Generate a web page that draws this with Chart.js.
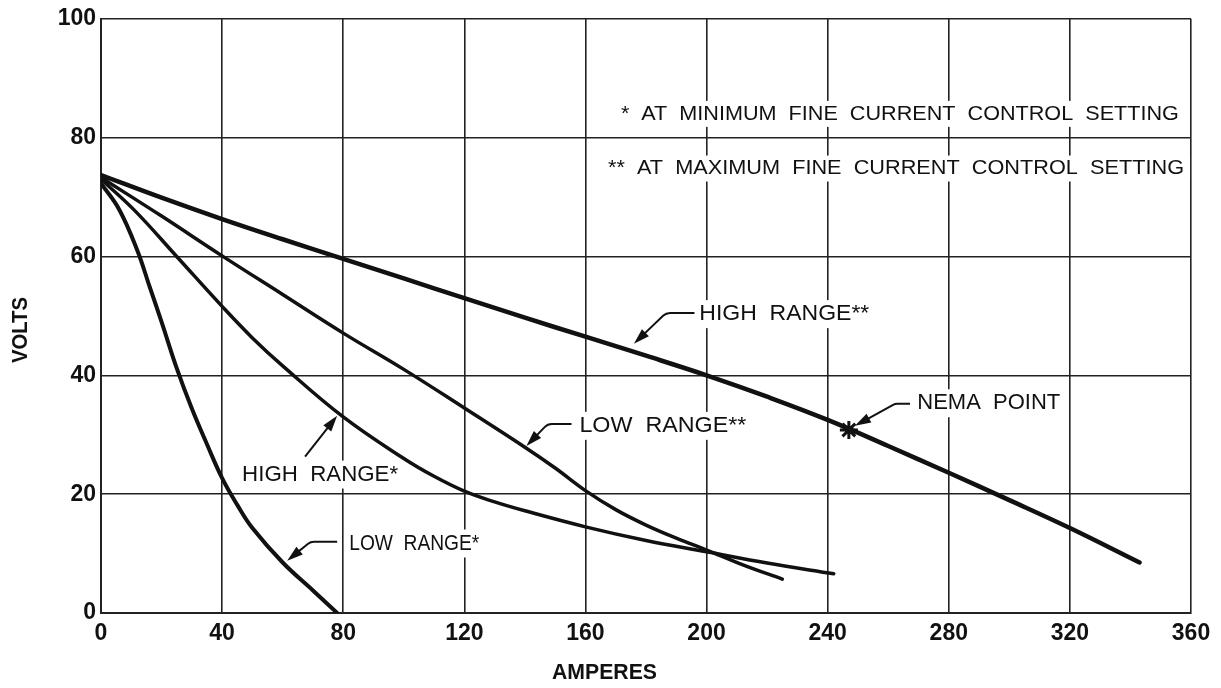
<!DOCTYPE html>
<html>
<head>
<meta charset="utf-8">
<title>Volt-ampere curves</title>
<script src="https://cdn.jsdelivr.net/npm/chart.js@4.4.1/dist/chart.umd.min.js"></script>
<style>
  html, body { margin: 0; padding: 0; background: #fff; }
  #wrap { width: 1221px; height: 688px; }
</style>
</head>
<body>
<div id="wrap"><canvas id="myChart" width="1221" height="688"></canvas></div>
<script>
// axis ticks
var xTicks = [0, 40, 80, 120, 160, 200, 240, 280, 320, 360];
var yTicks = [0, 20, 40, 60, 80, 100];

// LOW RANGE*
var lowMinAmps  = [0, 6, 12, 16, 20, 25, 30, 35, 40, 45, 50, 60, 70, 78];
var lowMinVolts = [72.3, 67.9, 61, 55, 49, 41.2, 34.4, 28.4, 22.7, 18.2, 14.3, 8.5, 3.8, 0];
// HIGH RANGE*
var highMinAmps  = [0, 11, 25, 40, 50, 60, 80, 100, 110, 120, 130, 140, 160, 180, 200, 220, 242];
var highMinVolts = [73, 67.8, 60, 51.6, 46.3, 41.6, 33, 26, 23, 20.5, 18.7, 17.2, 14.5, 12.2, 10.3, 8.4, 6.6];
// LOW RANGE**
var lowMaxAmps  = [0, 20, 40, 60, 80, 100, 120, 140, 150, 160, 170, 180, 190, 200, 212, 225];
var lowMaxVolts = [73.3, 66.8, 60.1, 53.6, 47.1, 41, 34.5, 27.9, 24.4, 20.6, 17.4, 14.8, 12.6, 10.6, 8.1, 5.7];
// HIGH RANGE**
var highMaxAmps  = [0, 20, 40, 60, 80, 100, 120, 140, 160, 180, 200, 220, 240, 260, 280, 300, 320, 343];
var highMaxVolts = [73.7, 69.9, 66.3, 62.9, 59.6, 56.3, 53, 49.7, 46.5, 43.3, 40, 36.4, 32.5, 28.1, 23.6, 19, 14.3, 8.5];
// NEMA point
var nemaAmps = [247];
var nemaVolts = [30.8];

function pairs(xs, ys) {
    return xs.map(function(v, i) { return {x: v, y: ys[i]}; });
}

// labels on the plot: text, where it starts, arrow path (last point is the tip)
var notes = [
    {text: 'HIGH  RANGE**', at: [197.6, 50.3], w: 170, arrow: [[196, 50.5], [186.6, 50.5], [176, 45.3]]},
    {text: 'LOW  RANGE**', at: [158, 31.5], w: 167, arrow: [[155.4, 31.8], [147.5, 31.8], [140.5, 28.1]]},
    {text: 'NEMA  POINT', at: [269.6, 35.3], w: 143, arrow: [[267.2, 35.2], [262.2, 35.2], [249, 31.5]]},
    {text: 'HIGH  RANGE*', at: [46.6, 23.3], w: 156, arrow: [[67.4, 26.3], [78, 33.2]]},
    {text: 'LOW  RANGE*', at: [82, 11.7], w: 130, arrow: [[78, 12.0], [69.2, 12.0], [61.5, 8.8]]}
];
var footnotes = [
    {text: '*  AT  MINIMUM  FINE  CURRENT  CONTROL  SETTING', right: [356, 84], w: 558},
    {text: '**  AT  MAXIMUM  FINE  CURRENT  CONTROL  SETTING', right: [357.7, 74.8], w: 576}
];

var FONT = "'Liberation Sans', Arial, sans-serif";

function drawText(ctx, text, x, y, w, font) {
    ctx.font = font;
    var m = ctx.measureText(text).width;
    ctx.save();
    ctx.translate(x, y);
    ctx.scale(w / m, 1);
    ctx.fillText(text, 0, 0);
    ctx.restore();
}

function arrowHead(ctx, from, to) {
    var a = Math.atan2(to[1] - from[1], to[0] - from[0]);
    var len = 16, half = 5;
    ctx.beginPath();
    ctx.moveTo(to[0], to[1]);
    ctx.lineTo(to[0] - len * Math.cos(a) + half * Math.sin(a), to[1] - len * Math.sin(a) - half * Math.cos(a));
    ctx.lineTo(to[0] - len * Math.cos(a) - half * Math.sin(a), to[1] - len * Math.sin(a) + half * Math.cos(a));
    ctx.closePath();
    ctx.fill();
}

var notesPlugin = {
    id: 'notes',
    beforeDatasetsDraw: function(chart) {
        var ctx = chart.ctx, xs = chart.scales.x, ys = chart.scales.y;
        ctx.save();
        ctx.textBaseline = 'middle';
        ctx.textAlign = 'left';
        // footnotes
        footnotes.forEach(function(f) {
            var px = xs.getPixelForValue(f.right[0]) - f.w, py = ys.getPixelForValue(f.right[1]);
            ctx.fillStyle = '#fff';
            ctx.fillRect(px - 6, py - 13, f.w + 12, 26);
            ctx.fillStyle = '#111';
            drawText(ctx, f.text, px, py, f.w, '21px ' + FONT);
        });
        // curve labels and arrows
        notes.forEach(function(n) {
            var px = xs.getPixelForValue(n.at[0]), py = ys.getPixelForValue(n.at[1]);
            ctx.fillStyle = '#fff';
            ctx.fillRect(px - 5, py - 14, n.w + 10, 28);
            ctx.fillStyle = '#111';
            drawText(ctx, n.text, px, py, n.w, '22px ' + FONT);
            var pts = n.arrow.map(function(p) { return [xs.getPixelForValue(p[0]), ys.getPixelForValue(p[1])]; });
            ctx.strokeStyle = '#111';
            ctx.lineWidth = 2;
            ctx.beginPath();
            ctx.moveTo(pts[0][0], pts[0][1]);
            if (pts.length === 3) {
                ctx.arcTo(pts[1][0], pts[1][1], pts[2][0], pts[2][1], 10);
            }
            var last = pts[pts.length - 1], prev = pts[pts.length - 2];
            var a = Math.atan2(last[1] - prev[1], last[0] - prev[0]);
            ctx.lineTo(last[0] - 10 * Math.cos(a), last[1] - 10 * Math.sin(a));
            ctx.stroke();
            arrowHead(ctx, prev, last);
        });
        ctx.restore();
    },
    afterDraw: function(chart) {
        var ctx = chart.ctx;
        ctx.save();
        ctx.fillStyle = '#111';
        ctx.textBaseline = 'middle';
        // axis titles
        drawText(ctx, 'AMPERES', 552, 673, 105, 'bold 22px ' + FONT);
        ctx.translate(21, 363);
        ctx.rotate(-Math.PI / 2);
        drawText(ctx, 'VOLTS', 0, 0, 66, 'bold 22px ' + FONT);
        ctx.restore();
    }
};

function curve(label, xs, ys, width) {
    return {
        label: label,
        data: pairs(xs, ys),
        borderColor: '#111',
        borderWidth: width,
        pointRadius: 0,
        tension: 0.4,
        borderCapStyle: 'round',
        fill: false
    };
}

var ctx = document.getElementById('myChart').getContext('2d');
var myChart = new Chart(ctx, {
    type: 'line',
    data: {
        datasets: [
            curve('LOW RANGE*', lowMinAmps, lowMinVolts, 4),
            curve('HIGH RANGE*', highMinAmps, highMinVolts, 3.5),
            curve('LOW RANGE**', lowMaxAmps, lowMaxVolts, 3.5),
            curve('HIGH RANGE**', highMaxAmps, highMaxVolts, 4.5),
            {
                label: 'NEMA POINT',
                data: pairs(nemaAmps, nemaVolts),
                showLine: false,
                pointStyle: 'star',
                pointRadius: 9,
                pointBorderWidth: 3,
                pointBorderColor: '#111',
                pointBackgroundColor: '#111'
            }
        ]
    },
    options: {
        responsive: false,
        animation: false,
        layout: {
            padding: {left: 0, top: 17, right: 30, bottom: 0}
        },
        plugins: {
            legend: { display: false },
            tooltip: { enabled: false }
        },
        scales: {
            x: {
                type: 'linear',
                min: 0,
                max: 360,
                afterBuildTicks: function(scale) {
                    scale.ticks = xTicks.map(function(v) { return {value: v}; });
                },
                afterFit: function(scale) { scale.height = 75; },
                grid: { color: '#222', lineWidth: 1.6, drawTicks: false },
                border: { color: '#222', width: 2 },
                ticks: {
                    color: '#111',
                    padding: 7,
                    maxRotation: 0,
                    font: { family: FONT, size: 23, weight: 'bold' }
                }
            },
            y: {
                type: 'linear',
                min: 0,
                max: 100,
                afterBuildTicks: function(scale) {
                    scale.ticks = yTicks.map(function(v) { return {value: v}; });
                },
                afterFit: function(scale) { scale.width = 101; },
                grid: { color: '#222', lineWidth: 1.6, drawTicks: false },
                border: { color: '#222', width: 2 },
                ticks: {
                    color: '#111',
                    padding: 5,
                    font: { family: FONT, size: 23, weight: 'bold' }
                }
            }
        }
    },
    plugins: [notesPlugin]
});
</script>
</body>
</html>
